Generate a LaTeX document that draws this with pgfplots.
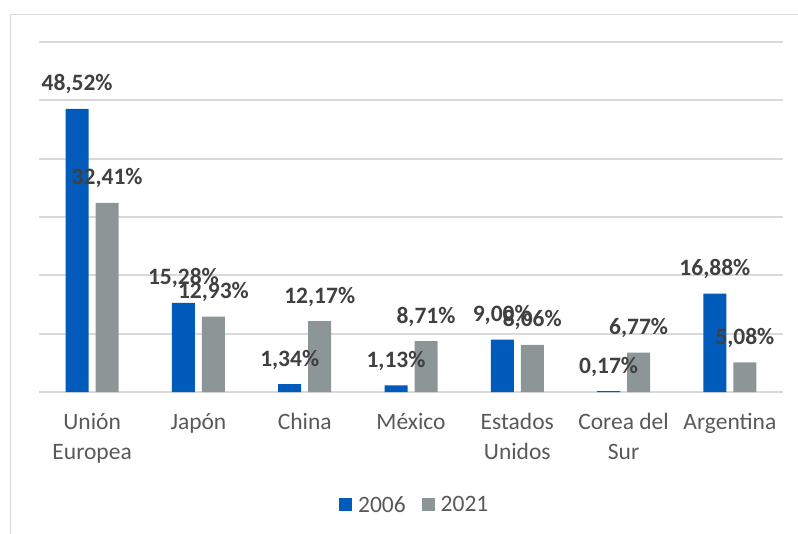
\documentclass[border=0pt]{standalone}
\usepackage{pgfplots}
\pgfplotsset{compat=1.18}
\usepackage{fontspec}
\setmainfont{Carlito}
\definecolor{blue06}{HTML}{005BBB}
\definecolor{gray21}{HTML}{8C9696}
\definecolor{gridc}{HTML}{D9D9D9}
\definecolor{ticktext}{HTML}{595959}
\definecolor{labtext}{HTML}{404040}
\begin{document}
\begin{tikzpicture}[x=1bp,y=1bp]
\useasboundingbox (0,-534) rectangle (798,0);
\draw[gridc, line width=1.5bp] (10.5,-534) -- (10.5,-14.5) -- (798,-14.5);
\begin{axis}[
  at={(39bp,-392bp)}, anchor=south west,
  scale only axis, width=744bp, height=350bp,
  ybar=7bp, bar width=23bp,
  xmin=-0.5, xmax=6.5, ymin=0, ymax=60,
  enlargelimits=false,
  ytick={0,10,...,60}, yticklabels={},
  ymajorgrids, grid style={gridc, line width=1.8bp},
  axis line style={draw=none},
  major tick length=0pt,
  xtick={0,...,6},
  xticklabels={{Unión\\Europea}, Japón, China, México, {Estados\\Unidos}, {Corea del\\Sur}, Argentina},
  x tick label style={align=center, text=ticktext, font=\fontsize{23.5bp}{30bp}\selectfont, anchor=north, yshift=-18bp},
  nodes near coords={\pgfmathprintnumber[fixed,fixed zerofill,precision=2,use comma,assume math mode=true]{\pgfplotspointmeta}\%},
  every node near coord/.append style={anchor=base, yshift=18bp, font=\fontsize{23.5bp}{28bp}\selectfont\bfseries, text=labtext, inner sep=0pt},
  clip=false,
  legend style={at={(0.505,-0.323)}, anchor=center, draw=none, legend columns=2,
    font=\fontsize{23.5bp}{28bp}\selectfont, text=ticktext,
    /tikz/every even column/.append style={column sep=14bp}},
  legend image code/.code={\fill[#1] (0bp,-6bp) rectangle (13bp,7bp); \path (17bp,0bp);},
]
\addplot[fill=blue06, draw=none] coordinates {(0,48.52) (1,15.28) (2,1.34) (3,1.13) (4,9.00) (5,0.17) (6,16.88)};
\addplot[fill=gray21, draw=none] coordinates {(0,32.41) (1,12.93) (2,12.17) (3,8.71) (4,8.06) (5,6.77) (6,5.08)};
\legend{2006, 2021}
\end{axis}
\end{tikzpicture}
\end{document}
